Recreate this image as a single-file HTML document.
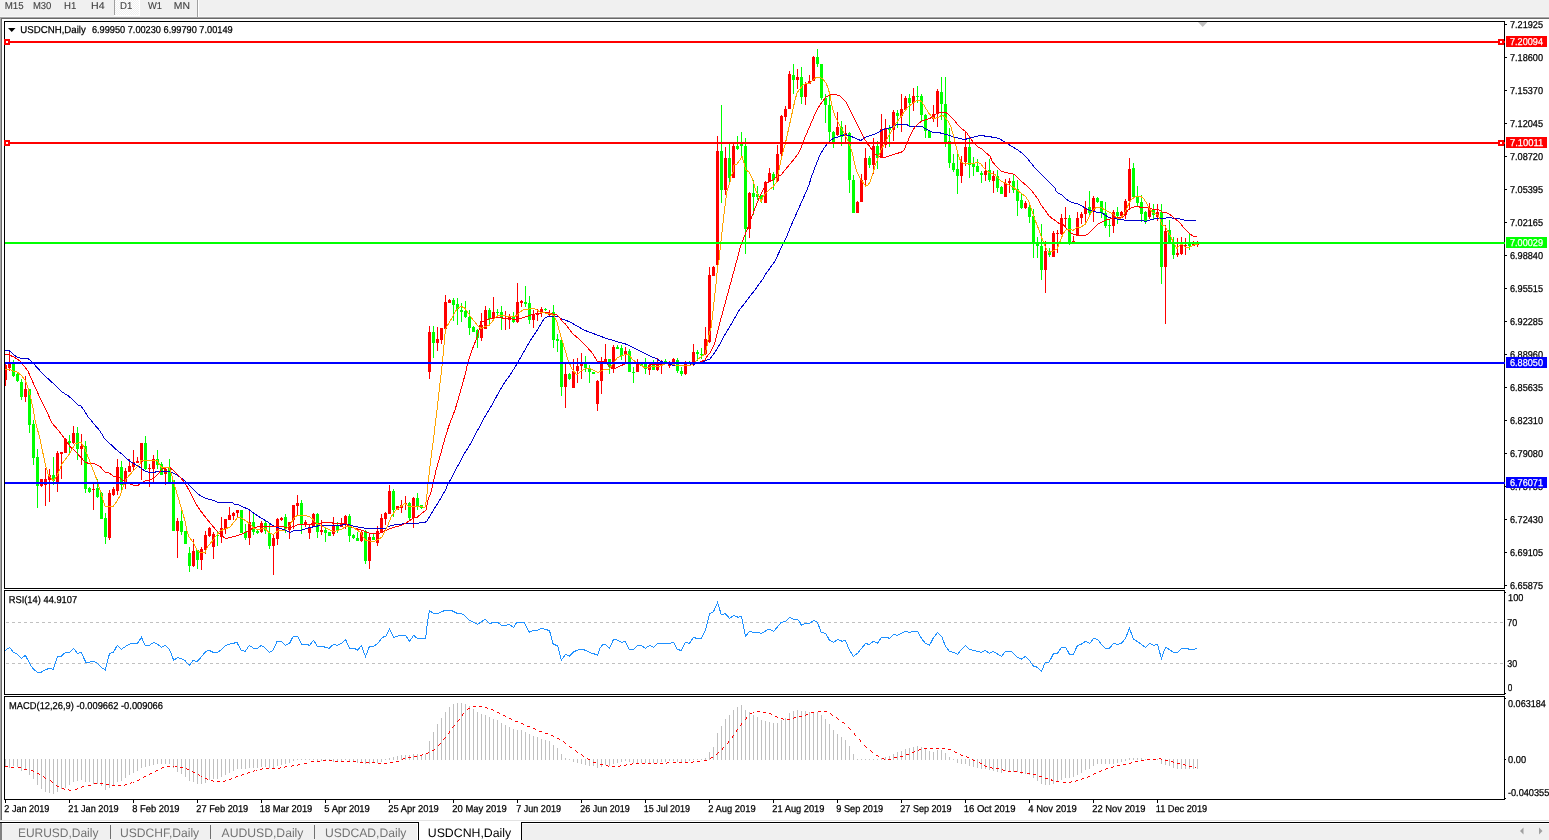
<!DOCTYPE html>
<html lang="en"><head><meta charset="utf-8"><title>USDCNH,Daily</title>
<style>
html,body{margin:0;padding:0;background:#fff;}
body{width:1549px;height:840px;overflow:hidden;position:relative;font-family:"Liberation Sans",sans-serif;}
svg{position:absolute;left:0;top:0;display:block;}
text{font-family:"Liberation Sans",sans-serif;text-rendering:geometricPrecision;}
.t{font-size:9.5px;fill:#000;}
.w{font-size:9.5px;fill:#fff;}
.tb{font-size:9.3px;fill:#3c3c3c;}
.tab{font-size:12px;fill:#757575;}
.taba{font-size:12px;fill:#000;}
</style></head><body>
<svg width="1549" height="840" viewBox="0 0 1549 840">

<g shape-rendering="crispEdges">
<rect x="0" y="0" width="1549" height="16" fill="#f0f0f0"/>
<rect x="0" y="16" width="1549" height="1" fill="#f6f6f6"/>
<rect x="0" y="17" width="1549" height="1" fill="#a6a6a6"/>
<rect x="0" y="18" width="1549" height="1" fill="#696969"/>
<defs><pattern id="chk" width="2" height="2" patternUnits="userSpaceOnUse"><rect width="2" height="2" fill="#f0f0f0"/><rect width="1" height="1" fill="#fff"/><rect x="1" y="1" width="1" height="1" fill="#fff"/></pattern></defs>
<rect x="115" y="0" width="24" height="15" fill="url(#chk)"/>
<rect x="114" y="0" width="1" height="15" fill="#a0a0a0"/>
<rect x="114" y="15" width="26" height="1" fill="#ffffff"/>
<rect x="139" y="0" width="1" height="15" fill="#ffffff"/>
<rect x="197" y="0" width="1" height="17" fill="#a0a0a0"/>
<rect x="198" y="0" width="1" height="17" fill="#ffffff"/>
<rect x="0" y="17" width="1" height="804" fill="#a6a6a6"/>
<rect x="1" y="18" width="1" height="803" fill="#696969"/>
<rect x="0" y="820" width="1549" height="1" fill="#e3e3e3"/>
<rect x="0" y="821" width="1549" height="1" fill="#ffffff"/>
<rect x="0" y="823" width="1549" height="17" fill="#f0f0f0"/>
<rect x="0" y="822" width="1549" height="1" fill="#000"/>
<rect x="0" y="823" width="2" height="17" fill="#808080"/>
<rect x="419" y="822" width="102" height="18" fill="#ffffff"/>
<rect x="418" y="822" width="1" height="18" fill="#000"/>
<rect x="521" y="822" width="1" height="18" fill="#000"/>
<rect x="417" y="823" width="1" height="17" fill="#fff"/>
<rect x="2" y="823" width="415" height="1" fill="#fff"/>
<rect x="522" y="823" width="1027" height="1" fill="#fff"/>
<rect x="110" y="825" width="1" height="14" fill="#707070"/>
<rect x="210" y="825" width="1" height="14" fill="#707070"/>
<rect x="314" y="825" width="1" height="14" fill="#707070"/>
<rect x="4" y="21" width="1501" height="1" fill="#000"/>
<rect x="4" y="588" width="1501" height="1" fill="#000"/>
<rect x="4" y="21" width="1" height="568" fill="#000"/>
<rect x="1504" y="21" width="1" height="568" fill="#000"/>
<rect x="4" y="590" width="1501" height="1" fill="#000"/>
<rect x="4" y="694" width="1501" height="1" fill="#000"/>
<rect x="4" y="590" width="1" height="105" fill="#000"/>
<rect x="1504" y="590" width="1" height="105" fill="#000"/>
<rect x="4" y="696" width="1501" height="1" fill="#000"/>
<rect x="4" y="799" width="1501" height="1" fill="#000"/>
<rect x="4" y="696" width="1" height="104" fill="#000"/>
<rect x="1504" y="696" width="1" height="104" fill="#000"/>
</g>
<polygon points="1198,22 1207.5,22 1202.7,27" fill="#c0c0c0"/>
<g shape-rendering="crispEdges">
<rect x="1505" y="24" width="2" height="1" fill="#000"/>
<rect x="1505" y="57" width="2" height="1" fill="#000"/>
<rect x="1505" y="90" width="2" height="1" fill="#000"/>
<rect x="1505" y="123" width="2" height="1" fill="#000"/>
<rect x="1505" y="156" width="2" height="1" fill="#000"/>
<rect x="1505" y="189" width="2" height="1" fill="#000"/>
<rect x="1505" y="222" width="2" height="1" fill="#000"/>
<rect x="1505" y="255" width="2" height="1" fill="#000"/>
<rect x="1505" y="288" width="2" height="1" fill="#000"/>
<rect x="1505" y="321" width="2" height="1" fill="#000"/>
<rect x="1505" y="354" width="2" height="1" fill="#000"/>
<rect x="1505" y="387" width="2" height="1" fill="#000"/>
<rect x="1505" y="420" width="2" height="1" fill="#000"/>
<rect x="1505" y="453" width="2" height="1" fill="#000"/>
<rect x="1505" y="486" width="2" height="1" fill="#000"/>
<rect x="1505" y="519" width="2" height="1" fill="#000"/>
<rect x="1505" y="552" width="2" height="1" fill="#000"/>
<rect x="1505" y="585" width="2" height="1" fill="#000"/>
<rect x="1505" y="592" width="1" height="1" fill="#000"/>
<rect x="1505" y="693" width="1" height="1" fill="#000"/>
<rect x="1505" y="698" width="1" height="1" fill="#000"/>
<rect x="1505" y="759" width="1" height="1" fill="#000"/>
<rect x="1505" y="798" width="1" height="1" fill="#000"/>
<rect x="5" y="800" width="1" height="3" fill="#000"/>
<rect x="69" y="800" width="1" height="3" fill="#000"/>
<rect x="133" y="800" width="1" height="3" fill="#000"/>
<rect x="197" y="800" width="1" height="3" fill="#000"/>
<rect x="261" y="800" width="1" height="3" fill="#000"/>
<rect x="325" y="800" width="1" height="3" fill="#000"/>
<rect x="389" y="800" width="1" height="3" fill="#000"/>
<rect x="453" y="800" width="1" height="3" fill="#000"/>
<rect x="517" y="800" width="1" height="3" fill="#000"/>
<rect x="581" y="800" width="1" height="3" fill="#000"/>
<rect x="645" y="800" width="1" height="3" fill="#000"/>
<rect x="709" y="800" width="1" height="3" fill="#000"/>
<rect x="773" y="800" width="1" height="3" fill="#000"/>
<rect x="837" y="800" width="1" height="3" fill="#000"/>
<rect x="901" y="800" width="1" height="3" fill="#000"/>
<rect x="965" y="800" width="1" height="3" fill="#000"/>
<rect x="1029" y="800" width="1" height="3" fill="#000"/>
<rect x="1093" y="800" width="1" height="3" fill="#000"/>
<rect x="1157" y="800" width="1" height="3" fill="#000"/>
<path d="M6 622.5H1504" stroke="#c0c0c0" stroke-width="1" stroke-dasharray="3 3" fill="none"/>
<path d="M6 663.5H1504" stroke="#c0c0c0" stroke-width="1" stroke-dasharray="3 3" fill="none"/>
</g>
<g shape-rendering="crispEdges" fill="#c0c0c0">
<rect x="5" y="759" width="1" height="8"/>
<rect x="9" y="759" width="1" height="9"/>
<rect x="13" y="759" width="1" height="7"/>
<rect x="17" y="759" width="1" height="8"/>
<rect x="21" y="759" width="1" height="12"/>
<rect x="25" y="759" width="1" height="11"/>
<rect x="29" y="759" width="1" height="16"/>
<rect x="33" y="759" width="1" height="20"/>
<rect x="37" y="759" width="1" height="26"/>
<rect x="41" y="759" width="1" height="30"/>
<rect x="45" y="759" width="1" height="33"/>
<rect x="49" y="759" width="1" height="34"/>
<rect x="53" y="759" width="1" height="35"/>
<rect x="57" y="759" width="1" height="33"/>
<rect x="61" y="759" width="1" height="30"/>
<rect x="65" y="759" width="1" height="29"/>
<rect x="69" y="759" width="1" height="26"/>
<rect x="73" y="759" width="1" height="23"/>
<rect x="77" y="759" width="1" height="22"/>
<rect x="81" y="759" width="1" height="21"/>
<rect x="85" y="759" width="1" height="23"/>
<rect x="89" y="759" width="1" height="23"/>
<rect x="93" y="759" width="1" height="25"/>
<rect x="97" y="759" width="1" height="25"/>
<rect x="101" y="759" width="1" height="27"/>
<rect x="105" y="759" width="1" height="31"/>
<rect x="109" y="759" width="1" height="29"/>
<rect x="113" y="759" width="1" height="26"/>
<rect x="117" y="759" width="1" height="23"/>
<rect x="121" y="759" width="1" height="22"/>
<rect x="125" y="759" width="1" height="19"/>
<rect x="129" y="759" width="1" height="16"/>
<rect x="133" y="759" width="1" height="14"/>
<rect x="137" y="759" width="1" height="12"/>
<rect x="141" y="759" width="1" height="9"/>
<rect x="145" y="759" width="1" height="8"/>
<rect x="149" y="759" width="1" height="7"/>
<rect x="153" y="759" width="1" height="6"/>
<rect x="157" y="759" width="1" height="5"/>
<rect x="161" y="759" width="1" height="5"/>
<rect x="165" y="759" width="1" height="5"/>
<rect x="169" y="759" width="1" height="5"/>
<rect x="173" y="759" width="1" height="9"/>
<rect x="177" y="759" width="1" height="13"/>
<rect x="181" y="759" width="1" height="15"/>
<rect x="185" y="759" width="1" height="18"/>
<rect x="189" y="759" width="1" height="22"/>
<rect x="193" y="759" width="1" height="23"/>
<rect x="197" y="759" width="1" height="25"/>
<rect x="201" y="759" width="1" height="25"/>
<rect x="205" y="759" width="1" height="24"/>
<rect x="209" y="759" width="1" height="21"/>
<rect x="213" y="759" width="1" height="20"/>
<rect x="217" y="759" width="1" height="20"/>
<rect x="221" y="759" width="1" height="18"/>
<rect x="225" y="759" width="1" height="16"/>
<rect x="229" y="759" width="1" height="14"/>
<rect x="233" y="759" width="1" height="12"/>
<rect x="237" y="759" width="1" height="10"/>
<rect x="241" y="759" width="1" height="10"/>
<rect x="245" y="759" width="1" height="10"/>
<rect x="249" y="759" width="1" height="9"/>
<rect x="253" y="759" width="1" height="9"/>
<rect x="257" y="759" width="1" height="9"/>
<rect x="261" y="759" width="1" height="8"/>
<rect x="265" y="759" width="1" height="8"/>
<rect x="269" y="759" width="1" height="9"/>
<rect x="273" y="759" width="1" height="9"/>
<rect x="277" y="759" width="1" height="7"/>
<rect x="281" y="759" width="1" height="6"/>
<rect x="285" y="759" width="1" height="5"/>
<rect x="289" y="759" width="1" height="4"/>
<rect x="293" y="759" width="1" height="2"/>
<rect x="297" y="759" width="1" height="1"/>
<rect x="301" y="759" width="1" height="1"/>
<rect x="305" y="759" width="1" height="1"/>
<rect x="309" y="759" width="1" height="1"/>
<rect x="313" y="759" width="1" height="1"/>
<rect x="317" y="759" width="1" height="2"/>
<rect x="321" y="759" width="1" height="2"/>
<rect x="325" y="759" width="1" height="2"/>
<rect x="329" y="759" width="1" height="2"/>
<rect x="333" y="759" width="1" height="3"/>
<rect x="337" y="759" width="1" height="2"/>
<rect x="341" y="759" width="1" height="2"/>
<rect x="345" y="759" width="1" height="1"/>
<rect x="349" y="759" width="1" height="2"/>
<rect x="353" y="759" width="1" height="3"/>
<rect x="357" y="759" width="1" height="4"/>
<rect x="361" y="759" width="1" height="4"/>
<rect x="365" y="759" width="1" height="5"/>
<rect x="369" y="759" width="1" height="5"/>
<rect x="373" y="759" width="1" height="4"/>
<rect x="377" y="759" width="1" height="4"/>
<rect x="381" y="759" width="1" height="3"/>
<rect x="385" y="759" width="1" height="1"/>
<rect x="389" y="758" width="1" height="2"/>
<rect x="393" y="757" width="1" height="3"/>
<rect x="397" y="756" width="1" height="4"/>
<rect x="401" y="755" width="1" height="5"/>
<rect x="405" y="755" width="1" height="5"/>
<rect x="409" y="755" width="1" height="5"/>
<rect x="413" y="754" width="1" height="6"/>
<rect x="417" y="754" width="1" height="6"/>
<rect x="421" y="755" width="1" height="5"/>
<rect x="425" y="754" width="1" height="6"/>
<rect x="429" y="741" width="1" height="19"/>
<rect x="433" y="732" width="1" height="28"/>
<rect x="437" y="724" width="1" height="36"/>
<rect x="441" y="718" width="1" height="42"/>
<rect x="445" y="712" width="1" height="48"/>
<rect x="449" y="707" width="1" height="53"/>
<rect x="453" y="704" width="1" height="56"/>
<rect x="457" y="703" width="1" height="57"/>
<rect x="461" y="703" width="1" height="57"/>
<rect x="465" y="704" width="1" height="56"/>
<rect x="469" y="706" width="1" height="54"/>
<rect x="473" y="709" width="1" height="51"/>
<rect x="477" y="712" width="1" height="48"/>
<rect x="481" y="714" width="1" height="46"/>
<rect x="485" y="715" width="1" height="45"/>
<rect x="489" y="717" width="1" height="43"/>
<rect x="493" y="719" width="1" height="41"/>
<rect x="497" y="720" width="1" height="40"/>
<rect x="501" y="723" width="1" height="37"/>
<rect x="505" y="725" width="1" height="35"/>
<rect x="509" y="727" width="1" height="33"/>
<rect x="513" y="729" width="1" height="31"/>
<rect x="517" y="730" width="1" height="30"/>
<rect x="521" y="730" width="1" height="30"/>
<rect x="525" y="732" width="1" height="28"/>
<rect x="529" y="734" width="1" height="26"/>
<rect x="533" y="736" width="1" height="24"/>
<rect x="537" y="737" width="1" height="23"/>
<rect x="541" y="739" width="1" height="21"/>
<rect x="545" y="740" width="1" height="20"/>
<rect x="549" y="741" width="1" height="19"/>
<rect x="553" y="745" width="1" height="15"/>
<rect x="557" y="748" width="1" height="12"/>
<rect x="561" y="754" width="1" height="6"/>
<rect x="565" y="758" width="1" height="2"/>
<rect x="569" y="759" width="1" height="1"/>
<rect x="573" y="759" width="1" height="3"/>
<rect x="577" y="759" width="1" height="4"/>
<rect x="581" y="759" width="1" height="5"/>
<rect x="585" y="759" width="1" height="6"/>
<rect x="589" y="759" width="1" height="7"/>
<rect x="593" y="759" width="1" height="7"/>
<rect x="597" y="759" width="1" height="9"/>
<rect x="601" y="759" width="1" height="8"/>
<rect x="605" y="759" width="1" height="6"/>
<rect x="609" y="759" width="1" height="7"/>
<rect x="613" y="759" width="1" height="5"/>
<rect x="617" y="759" width="1" height="4"/>
<rect x="621" y="759" width="1" height="3"/>
<rect x="625" y="759" width="1" height="2"/>
<rect x="629" y="759" width="1" height="3"/>
<rect x="633" y="759" width="1" height="4"/>
<rect x="637" y="759" width="1" height="4"/>
<rect x="641" y="759" width="1" height="4"/>
<rect x="645" y="759" width="1" height="4"/>
<rect x="649" y="759" width="1" height="4"/>
<rect x="653" y="759" width="1" height="4"/>
<rect x="657" y="759" width="1" height="4"/>
<rect x="661" y="759" width="1" height="3"/>
<rect x="665" y="759" width="1" height="3"/>
<rect x="669" y="759" width="1" height="2"/>
<rect x="673" y="759" width="1" height="2"/>
<rect x="677" y="759" width="1" height="3"/>
<rect x="681" y="759" width="1" height="3"/>
<rect x="685" y="759" width="1" height="3"/>
<rect x="689" y="759" width="1" height="2"/>
<rect x="693" y="759" width="1" height="1"/>
<rect x="697" y="759" width="1" height="1"/>
<rect x="701" y="759" width="1" height="1"/>
<rect x="705" y="758" width="1" height="2"/>
<rect x="709" y="752" width="1" height="8"/>
<rect x="713" y="747" width="1" height="13"/>
<rect x="717" y="733" width="1" height="27"/>
<rect x="721" y="726" width="1" height="34"/>
<rect x="725" y="719" width="1" height="41"/>
<rect x="729" y="715" width="1" height="45"/>
<rect x="733" y="710" width="1" height="50"/>
<rect x="737" y="707" width="1" height="53"/>
<rect x="741" y="705" width="1" height="55"/>
<rect x="745" y="710" width="1" height="50"/>
<rect x="749" y="712" width="1" height="48"/>
<rect x="753" y="715" width="1" height="45"/>
<rect x="757" y="717" width="1" height="43"/>
<rect x="761" y="720" width="1" height="40"/>
<rect x="765" y="721" width="1" height="39"/>
<rect x="769" y="722" width="1" height="38"/>
<rect x="773" y="723" width="1" height="37"/>
<rect x="777" y="723" width="1" height="37"/>
<rect x="781" y="720" width="1" height="40"/>
<rect x="785" y="718" width="1" height="42"/>
<rect x="789" y="713" width="1" height="47"/>
<rect x="793" y="711" width="1" height="49"/>
<rect x="797" y="710" width="1" height="50"/>
<rect x="801" y="711" width="1" height="49"/>
<rect x="805" y="711" width="1" height="49"/>
<rect x="809" y="712" width="1" height="48"/>
<rect x="813" y="712" width="1" height="48"/>
<rect x="817" y="712" width="1" height="48"/>
<rect x="821" y="715" width="1" height="45"/>
<rect x="825" y="719" width="1" height="41"/>
<rect x="829" y="724" width="1" height="36"/>
<rect x="833" y="730" width="1" height="30"/>
<rect x="837" y="734" width="1" height="26"/>
<rect x="841" y="737" width="1" height="23"/>
<rect x="845" y="740" width="1" height="20"/>
<rect x="849" y="746" width="1" height="14"/>
<rect x="853" y="754" width="1" height="6"/>
<rect x="857" y="759" width="1" height="1"/>
<rect x="861" y="759" width="1" height="1"/>
<rect x="865" y="759" width="1" height="1"/>
<rect x="869" y="759" width="1" height="1"/>
<rect x="873" y="759" width="1" height="1"/>
<rect x="877" y="759" width="1" height="1"/>
<rect x="881" y="758" width="1" height="2"/>
<rect x="885" y="757" width="1" height="3"/>
<rect x="889" y="756" width="1" height="4"/>
<rect x="893" y="754" width="1" height="6"/>
<rect x="897" y="752" width="1" height="8"/>
<rect x="901" y="751" width="1" height="9"/>
<rect x="905" y="749" width="1" height="11"/>
<rect x="909" y="748" width="1" height="12"/>
<rect x="913" y="747" width="1" height="13"/>
<rect x="917" y="746" width="1" height="14"/>
<rect x="921" y="747" width="1" height="13"/>
<rect x="925" y="749" width="1" height="11"/>
<rect x="929" y="751" width="1" height="9"/>
<rect x="933" y="752" width="1" height="8"/>
<rect x="937" y="750" width="1" height="10"/>
<rect x="941" y="750" width="1" height="10"/>
<rect x="945" y="753" width="1" height="7"/>
<rect x="949" y="757" width="1" height="3"/>
<rect x="953" y="759" width="1" height="1"/>
<rect x="957" y="759" width="1" height="4"/>
<rect x="961" y="759" width="1" height="5"/>
<rect x="965" y="759" width="1" height="5"/>
<rect x="969" y="759" width="1" height="7"/>
<rect x="973" y="759" width="1" height="8"/>
<rect x="977" y="759" width="1" height="9"/>
<rect x="981" y="759" width="1" height="10"/>
<rect x="985" y="759" width="1" height="10"/>
<rect x="989" y="759" width="1" height="11"/>
<rect x="993" y="759" width="1" height="12"/>
<rect x="997" y="759" width="1" height="13"/>
<rect x="1001" y="759" width="1" height="14"/>
<rect x="1005" y="759" width="1" height="12"/>
<rect x="1009" y="759" width="1" height="12"/>
<rect x="1013" y="759" width="1" height="13"/>
<rect x="1017" y="759" width="1" height="13"/>
<rect x="1021" y="759" width="1" height="15"/>
<rect x="1025" y="759" width="1" height="15"/>
<rect x="1029" y="759" width="1" height="16"/>
<rect x="1033" y="759" width="1" height="19"/>
<rect x="1037" y="759" width="1" height="22"/>
<rect x="1041" y="759" width="1" height="25"/>
<rect x="1045" y="759" width="1" height="26"/>
<rect x="1049" y="759" width="1" height="26"/>
<rect x="1053" y="759" width="1" height="25"/>
<rect x="1057" y="759" width="1" height="23"/>
<rect x="1061" y="759" width="1" height="21"/>
<rect x="1065" y="759" width="1" height="19"/>
<rect x="1069" y="759" width="1" height="19"/>
<rect x="1073" y="759" width="1" height="18"/>
<rect x="1077" y="759" width="1" height="16"/>
<rect x="1081" y="759" width="1" height="14"/>
<rect x="1085" y="759" width="1" height="11"/>
<rect x="1089" y="759" width="1" height="10"/>
<rect x="1093" y="759" width="1" height="7"/>
<rect x="1097" y="759" width="1" height="5"/>
<rect x="1101" y="759" width="1" height="5"/>
<rect x="1105" y="759" width="1" height="5"/>
<rect x="1109" y="759" width="1" height="5"/>
<rect x="1113" y="759" width="1" height="5"/>
<rect x="1117" y="759" width="1" height="4"/>
<rect x="1121" y="759" width="1" height="3"/>
<rect x="1125" y="759" width="1" height="2"/>
<rect x="1129" y="758" width="1" height="2"/>
<rect x="1133" y="758" width="1" height="2"/>
<rect x="1137" y="758" width="1" height="2"/>
<rect x="1141" y="758" width="1" height="2"/>
<rect x="1145" y="759" width="1" height="1"/>
<rect x="1149" y="759" width="1" height="1"/>
<rect x="1153" y="759" width="1" height="1"/>
<rect x="1157" y="759" width="1" height="1"/>
<rect x="1161" y="759" width="1" height="5"/>
<rect x="1165" y="759" width="1" height="6"/>
<rect x="1169" y="759" width="1" height="7"/>
<rect x="1173" y="759" width="1" height="9"/>
<rect x="1177" y="759" width="1" height="10"/>
<rect x="1181" y="759" width="1" height="10"/>
<rect x="1185" y="759" width="1" height="10"/>
<rect x="1189" y="759" width="1" height="10"/>
<rect x="1193" y="759" width="1" height="10"/>
<rect x="1197" y="759" width="1" height="10"/>
</g>
<path d="M473 706h3v1h-3zM479 706h3v1h-3zM485 707h2v1h-2zM468 708h2v1h-2zM487 708h1v1h-1zM467 709h1v1h-1zM491 709h2v1h-2zM493 710h1v1h-1zM757 711h3v1h-3zM818 711h3v1h-3zM824 711h3v1h-3zM497 712h2v1h-2zM753 712h1v1h-1zM763 712h3v1h-3zM811 712h3v1h-3zM463 713h1v1h-1zM499 713h1v1h-1zM750 713h2v1h-2zM769 713h2v1h-2zM830 713h1v1h-1zM462 714h1v1h-1zM771 714h1v1h-1zM806 714h2v1h-2zM831 714h1v1h-1zM462 715h1v1h-1zM503 715h2v1h-2zM805 715h1v1h-1zM832 715h1v1h-1zM505 716h1v1h-1zM775 716h2v1h-2zM799 716h3v1h-3zM746 717h1v1h-1zM777 717h1v1h-1zM794 717h2v1h-2zM836 717h1v1h-1zM509 718h2v1h-2zM746 718h1v1h-1zM781 718h2v1h-2zM793 718h1v1h-1zM837 718h1v1h-1zM459 719h1v1h-1zM511 719h1v1h-1zM745 719h1v1h-1zM783 719h1v1h-1zM787 719h3v1h-3zM838 719h1v1h-1zM458 720h1v1h-1zM457 721h1v1h-1zM515 721h3v1h-3zM842 722h2v1h-2zM521 723h2v1h-2zM741 723h1v1h-1zM844 723h1v1h-1zM523 724h1v1h-1zM741 724h1v1h-1zM454 725h1v1h-1zM740 725h1v1h-1zM453 726h1v1h-1zM527 726h3v1h-3zM452 727h1v1h-1zM848 727h1v1h-1zM533 728h2v1h-2zM849 728h1v1h-1zM535 729h1v1h-1zM737 729h1v1h-1zM850 729h1v1h-1zM736 730h1v1h-1zM449 731h1v1h-1zM539 731h3v1h-3zM736 731h1v1h-1zM449 732h1v1h-1zM448 733h1v1h-1zM545 733h3v1h-3zM854 733h1v1h-1zM854 734h1v1h-1zM551 735h2v1h-2zM733 735h1v1h-1zM855 735h1v1h-1zM553 736h1v1h-1zM732 736h1v1h-1zM445 737h1v1h-1zM732 737h1v1h-1zM444 738h1v1h-1zM557 738h2v1h-2zM443 739h1v1h-1zM559 739h1v1h-1zM859 739h1v1h-1zM860 740h1v1h-1zM563 741h1v1h-1zM728 741h1v1h-1zM860 741h1v1h-1zM564 742h1v1h-1zM728 742h1v1h-1zM440 743h1v1h-1zM565 743h1v1h-1zM727 743h1v1h-1zM439 744h1v1h-1zM438 745h1v1h-1zM864 745h1v1h-1zM569 746h1v1h-1zM865 746h1v1h-1zM570 747h2v1h-2zM723 747h1v1h-1zM866 747h1v1h-1zM722 748h1v1h-1zM924 748h3v1h-3zM930 748h3v1h-3zM936 748h3v1h-3zM942 748h3v1h-3zM434 749h1v1h-1zM722 749h1v1h-1zM919 749h2v1h-2zM948 749h3v1h-3zM432 750h2v1h-2zM575 750h1v1h-1zM870 750h1v1h-1zM918 750h1v1h-1zM576 751h1v1h-1zM871 751h1v1h-1zM914 751h1v1h-1zM954 751h1v1h-1zM428 752h1v1h-1zM577 752h1v1h-1zM718 752h1v1h-1zM872 752h1v1h-1zM912 752h2v1h-2zM955 752h2v1h-2zM426 753h2v1h-2zM717 753h1v1h-1zM422 754h1v1h-1zM581 754h1v1h-1zM716 754h1v1h-1zM906 754h3v1h-3zM960 754h1v1h-1zM420 755h2v1h-2zM582 755h1v1h-1zM876 755h2v1h-2zM961 755h2v1h-2zM414 756h3v1h-3zM583 756h1v1h-1zM878 756h1v1h-1zM900 756h3v1h-3zM966 756h1v1h-1zM408 757h3v1h-3zM711 757h2v1h-2zM894 757h3v1h-3zM967 757h2v1h-2zM403 758h2v1h-2zM587 758h1v1h-1zM710 758h1v1h-1zM882 758h2v1h-2zM1159 758h2v1h-2zM402 759h1v1h-1zM588 759h2v1h-2zM884 759h1v1h-1zM888 759h3v1h-3zM972 759h1v1h-1zM1147 759h3v1h-3zM1153 759h3v1h-3zM1161 759h1v1h-1zM323 760h3v1h-3zM329 760h3v1h-3zM704 760h3v1h-3zM973 760h2v1h-2zM1141 760h3v1h-3zM1165 760h3v1h-3zM311 761h3v1h-3zM317 761h3v1h-3zM335 761h3v1h-3zM341 761h3v1h-3zM347 761h3v1h-3zM353 761h3v1h-3zM396 761h3v1h-3zM693 761h1v1h-1zM697 761h3v1h-3zM1135 761h3v1h-3zM1171 761h2v1h-2zM360 762h3v1h-3zM366 762h3v1h-3zM372 762h3v1h-3zM390 762h3v1h-3zM593 762h3v1h-3zM667 762h2v1h-2zM673 762h3v1h-3zM679 762h3v1h-3zM685 762h3v1h-3zM691 762h2v1h-2zM979 762h1v1h-1zM1131 762h1v1h-1zM1173 762h1v1h-1zM304 763h3v1h-3zM378 763h3v1h-3zM384 763h3v1h-3zM632 763h1v1h-1zM636 763h3v1h-3zM642 763h3v1h-3zM648 763h3v1h-3zM654 763h3v1h-3zM660 763h3v1h-3zM666 763h1v1h-1zM980 763h2v1h-2zM1129 763h2v1h-2zM1177 763h3v1h-3zM298 764h2v1h-2zM600 764h3v1h-3zM626 764h1v1h-1zM630 764h2v1h-2zM1123 764h3v1h-3zM1183 764h2v1h-2zM292 765h2v1h-2zM297 765h1v1h-1zM606 765h2v1h-2zM620 765h1v1h-1zM624 765h2v1h-2zM984 765h1v1h-1zM1117 765h3v1h-3zM1185 765h1v1h-1zM5 766h3v1h-3zM167 766h3v1h-3zM173 766h1v1h-1zM175 766h2v1h-2zM285 766h2v1h-2zM291 766h1v1h-1zM608 766h1v1h-1zM612 766h3v1h-3zM618 766h2v1h-2zM985 766h2v1h-2zM1113 766h1v1h-1zM1189 766h3v1h-3zM11 767h3v1h-3zM18 767h3v1h-3zM162 767h2v1h-2zM180 767h3v1h-3zM280 767h1v1h-1zM284 767h1v1h-1zM990 767h2v1h-2zM1111 767h2v1h-2zM1195 767h1v1h-1zM161 768h1v1h-1zM186 768h1v1h-1zM262 768h1v1h-1zM266 768h3v1h-3zM272 768h3v1h-3zM278 768h2v1h-2zM992 768h1v1h-1zM996 768h3v1h-3zM1106 768h2v1h-2zM24 769h3v1h-3zM187 769h2v1h-2zM260 769h2v1h-2zM1002 769h1v1h-1zM1105 769h1v1h-1zM31 770h2v1h-2zM156 770h2v1h-2zM254 770h1v1h-1zM256 770h1v1h-1zM1003 770h2v1h-2zM1101 770h1v1h-1zM33 771h1v1h-1zM155 771h1v1h-1zM192 771h1v1h-1zM253 771h1v1h-1zM1008 771h3v1h-3zM1014 771h3v1h-3zM1099 771h2v1h-2zM193 772h2v1h-2zM248 772h2v1h-2zM1020 772h3v1h-3zM37 773h2v1h-2zM150 773h2v1h-2zM247 773h1v1h-1zM1027 773h3v1h-3zM1094 773h2v1h-2zM39 774h1v1h-1zM149 774h1v1h-1zM198 774h1v1h-1zM242 774h2v1h-2zM1033 774h3v1h-3zM1093 774h1v1h-1zM199 775h1v1h-1zM241 775h1v1h-1zM43 776h1v1h-1zM144 776h2v1h-2zM201 776h1v1h-1zM236 776h2v1h-2zM1039 776h3v1h-3zM1088 776h2v1h-2zM44 777h1v1h-1zM143 777h1v1h-1zM235 777h1v1h-1zM1087 777h1v1h-1zM45 778h1v1h-1zM205 778h2v1h-2zM231 778h1v1h-1zM1045 778h3v1h-3zM1082 778h2v1h-2zM139 779h1v1h-1zM207 779h1v1h-1zM229 779h2v1h-2zM1051 779h1v1h-1zM1081 779h1v1h-1zM50 780h1v1h-1zM137 780h2v1h-2zM211 780h2v1h-2zM225 780h1v1h-1zM1051 780h2v1h-2zM1076 780h2v1h-2zM51 781h1v1h-1zM213 781h1v1h-1zM217 781h3v1h-3zM223 781h2v1h-2zM1056 781h3v1h-3zM1071 781h1v1h-1zM1075 781h1v1h-1zM52 782h1v1h-1zM131 782h1v1h-1zM133 782h1v1h-1zM1063 782h3v1h-3zM1069 782h2v1h-2zM94 783h3v1h-3zM100 783h3v1h-3zM130 783h1v1h-1zM106 784h3v1h-3zM125 784h2v1h-2zM56 785h1v1h-1zM88 785h3v1h-3zM112 785h3v1h-3zM118 785h3v1h-3zM124 785h1v1h-1zM57 786h2v1h-2zM82 786h2v1h-2zM81 787h1v1h-1zM62 788h2v1h-2zM77 788h1v1h-1zM64 789h1v1h-1zM68 789h1v1h-1zM75 789h2v1h-2zM69 790h2v1h-2z" fill="#ff0000" shape-rendering="crispEdges"/>
<polyline points="5.2,650.5 9.7,647.3 12.9,651.8 16.1,653.4 21.3,658.3 25.4,655.4 30.3,664.7 33.8,669.6 37.4,672.2 41.3,672.2 44.5,670.3 49,668.3 53.2,669.2 57.5,656.6 61.3,656.3 65.6,652.2 69.7,652.2 73.6,648.3 77.5,653.4 81.1,652.2 85.9,662.4 89.7,662.1 93.6,661.2 96.8,662.8 102,668 105.2,669.9 109.5,653.7 113.6,652.1 117.2,645.4 121.4,649.2 127.2,645.4 131.7,643.4 137.5,643.4 141.4,637.3 145.3,645.4 149.1,645.4 153.6,642.4 156.9,643.8 161.4,647.3 165.3,645.1 169.4,649.2 173.7,660.2 177.9,657.4 184.6,660.2 189.2,665.4 193,660.5 196.9,661.5 200,658.5 205.8,651.4 209,650.3 213.6,652.5 217.4,652.5 221.3,649.9 225.8,645.4 229,644.2 232.9,643.4 237,642.4 241,650.3 245.2,651.4 249.3,645.4 253.6,648.3 257.5,648.3 261.3,645.4 264.6,647.3 269.5,652.5 273.3,649.9 277.1,641.2 281.3,641.2 285.5,645.4 289.7,643 293.2,636.3 297.7,636.3 301.4,644.2 306.5,644.2 309.5,645.4 313.6,640.3 317.5,646.4 323.3,646.4 325.2,647.3 329.1,648.3 333.6,644.2 337.3,645.4 341.4,643.4 345.5,639.5 349.5,648.3 354.3,648.3 357.5,650.3 361.4,645.6 365.5,656.6 369.4,646.4 373.3,646.4 377.5,643.8 382.1,637.6 385.9,636.1 389.4,629.2 393.7,637.3 397.5,636.3 400,635.4 405.8,635.4 409.4,641.5 413.6,635.4 417.4,638.5 425.6,638.5 427.4,622.8 429.4,610.5 433.6,613.5 438.1,613.5 444.5,610.5 451.6,610.5 457.5,613.5 461.3,613.5 463.9,615 469.5,620.2 477.5,624.4 485.2,619.3 489.7,623.7 493,622.4 497.5,622.4 502,625.5 505.9,625.5 509.1,624.4 513.6,627.5 516.8,622.4 524,622.4 529.5,632.4 533,630.5 537.3,630.2 541.4,628.3 545.5,629.5 549.5,630.5 553,643.8 557.8,646 561.4,660.2 565.5,654.4 569.4,656.3 573.7,651.8 578.2,649.9 582.1,649.2 585.9,650.5 589.8,652.5 597.5,655 600,648.3 602.6,644.7 605.2,644.2 609.4,648.3 613.6,639.3 617.4,640.2 622,642.4 625.2,641.5 629.4,649.5 633.3,649.5 637.4,645.4 641.3,645.4 645.4,648.3 649.7,645.4 653.6,647.3 657.5,643.4 669.7,643.4 673.6,642.4 677.1,649.2 681.1,650.5 685.2,642.4 689.3,643.4 693.6,637.3 696.8,638.5 701.4,638.5 705.2,630.5 707.4,622.8 709.5,613.5 713.4,611.8 717.5,602.5 721.4,615 725.2,613.5 729.5,618.4 733.6,615.4 738.2,617.3 741.4,616.4 745.5,636.3 749.5,631.4 753,632.4 758.8,632.4 761.4,633.5 767.8,629.5 770.4,629.5 773.7,631.4 780.8,622.8 785.5,621.2 789.8,617.3 793.7,619.3 797.5,619.3 800,622.4 801.5,625.5 805.2,623.4 809.7,623.4 813.8,620.3 817.4,622.4 821.3,632.4 825.8,633.5 829.4,640.2 833.6,642.4 837.7,639.3 842,641.2 845.2,640.2 849.1,649.2 853.3,656.3 857.5,653.4 865.6,643.4 869.1,644.5 873.6,641.2 877.5,643.4 881.3,637.3 887.2,637.3 889.3,638.5 893.6,634.4 897.5,635.3 905.2,631.4 909.5,632.4 913.6,631.4 917.5,631.4 921.4,638.3 925.2,643.2 929.5,645.4 933,638.5 937.5,632.4 941.6,636.3 945.5,646.4 949.5,651.4 953.6,652.5 957.5,654.4 961.4,649.5 965.5,645.4 969.4,649.2 973.7,650.5 977.5,651.4 981.4,652.5 985.3,650.5 989.4,653.4 993,651.4 996.3,653.4 1000,655.4 1001.5,656.6 1005.2,651.4 1011,651.4 1013.6,653.4 1017.4,657.4 1021.3,659.2 1025.4,656.3 1029.7,660.8 1033.3,666 1037.4,667.3 1041.6,671.4 1045.2,662.4 1049.1,662.1 1053.6,653.4 1057.5,653.4 1061.6,647.3 1065.8,647.3 1069.5,654.4 1073.3,654.4 1077.5,645.4 1081.3,644.2 1085.5,641.2 1089.7,643.4 1093.6,638.3 1097.7,639.5 1101.4,644.2 1105.6,648.3 1109.5,648.3 1113.4,643.4 1117.5,644.5 1121.4,643.4 1125.2,638.9 1129.5,628.3 1133.4,639.3 1137.5,641.5 1145.5,647.6 1149.5,643.4 1153.6,645.4 1157.5,644.5 1161.4,658.5 1165.5,647.3 1169.4,649.5 1173.7,652.5 1177.5,652.5 1181.4,648.3 1187.2,648.3 1189.4,649.5 1193.7,649.5 1196.9,648.3" fill="none" stroke="#1e90ff" stroke-width="1" shape-rendering="crispEdges"/>
<g shape-rendering="crispEdges">
</g>
<g shape-rendering="crispEdges">
<g fill="#00ff00">
<rect x="13" y="360" width="1" height="17"/><rect x="12" y="364" width="3" height="12"/>
<rect x="17" y="373" width="1" height="9"/><rect x="16" y="374" width="3" height="7"/>
<rect x="21" y="379" width="1" height="21"/><rect x="20" y="382" width="3" height="15"/>
<rect x="29" y="389" width="1" height="44"/><rect x="28" y="389" width="3" height="36"/>
<rect x="33" y="420" width="1" height="45"/><rect x="32" y="424" width="3" height="34"/>
<rect x="37" y="449" width="1" height="59"/><rect x="36" y="457" width="3" height="29"/>
<rect x="53" y="457" width="1" height="28"/><rect x="52" y="475" width="3" height="6"/>
<rect x="69" y="435" width="1" height="18"/><rect x="68" y="441" width="3" height="2"/>
<rect x="77" y="427" width="1" height="33"/><rect x="76" y="433" width="3" height="16"/>
<rect x="85" y="441" width="1" height="52"/><rect x="84" y="446" width="3" height="43"/>
<rect x="89" y="487" width="1" height="6"/><rect x="88" y="488" width="3" height="4"/>
<rect x="97" y="479" width="1" height="19"/><rect x="96" y="488" width="3" height="9"/>
<rect x="101" y="492" width="1" height="27"/><rect x="100" y="493" width="3" height="26"/>
<rect x="105" y="513" width="1" height="31"/><rect x="104" y="518" width="3" height="19"/>
<rect x="121" y="461" width="1" height="31"/><rect x="120" y="467" width="3" height="18"/>
<rect x="145" y="436" width="1" height="34"/><rect x="144" y="443" width="3" height="26"/>
<rect x="157" y="450" width="1" height="19"/><rect x="156" y="459" width="3" height="6"/>
<rect x="161" y="462" width="1" height="13"/><rect x="160" y="464" width="3" height="11"/>
<rect x="169" y="459" width="1" height="23"/><rect x="168" y="468" width="3" height="14"/>
<rect x="173" y="480" width="1" height="51"/><rect x="172" y="480" width="3" height="51"/>
<rect x="181" y="510" width="1" height="25"/><rect x="180" y="521" width="3" height="11"/>
<rect x="185" y="531" width="1" height="13"/><rect x="184" y="531" width="3" height="13"/>
<rect x="189" y="547" width="1" height="25"/><rect x="188" y="553" width="3" height="13"/>
<rect x="197" y="550" width="1" height="19"/><rect x="196" y="550" width="3" height="10"/>
<rect x="217" y="532" width="1" height="14"/><rect x="216" y="535" width="3" height="1"/>
<rect x="241" y="510" width="1" height="23"/><rect x="240" y="510" width="3" height="23"/>
<rect x="245" y="524" width="1" height="16"/><rect x="244" y="532" width="3" height="6"/>
<rect x="253" y="512" width="1" height="23"/><rect x="252" y="522" width="3" height="10"/>
<rect x="257" y="530" width="1" height="4"/><rect x="256" y="531" width="3" height="2"/>
<rect x="265" y="521" width="1" height="13"/><rect x="264" y="523" width="3" height="8"/>
<rect x="269" y="523" width="1" height="26"/><rect x="268" y="533" width="3" height="13"/>
<rect x="285" y="514" width="1" height="19"/><rect x="284" y="517" width="3" height="12"/>
<rect x="301" y="500" width="1" height="34"/><rect x="300" y="503" width="3" height="21"/>
<rect x="317" y="513" width="1" height="25"/><rect x="316" y="514" width="3" height="18"/>
<rect x="325" y="527" width="1" height="15"/><rect x="324" y="530" width="3" height="3"/>
<rect x="329" y="532" width="1" height="4"/><rect x="328" y="532" width="3" height="4"/>
<rect x="337" y="522" width="1" height="11"/><rect x="336" y="526" width="3" height="4"/>
<rect x="349" y="514" width="1" height="28"/><rect x="348" y="516" width="3" height="20"/>
<rect x="353" y="534" width="1" height="5"/><rect x="352" y="535" width="3" height="3"/>
<rect x="357" y="532" width="1" height="9"/><rect x="356" y="538" width="3" height="3"/>
<rect x="365" y="530" width="1" height="34"/><rect x="364" y="531" width="3" height="30"/>
<rect x="373" y="534" width="1" height="6"/><rect x="372" y="537" width="3" height="3"/>
<rect x="393" y="489" width="1" height="28"/><rect x="392" y="491" width="3" height="19"/>
<rect x="409" y="502" width="1" height="19"/><rect x="408" y="503" width="3" height="15"/>
<rect x="417" y="493" width="1" height="17"/><rect x="416" y="498" width="3" height="9"/>
<rect x="421" y="505" width="1" height="4"/><rect x="420" y="505" width="3" height="3"/>
<rect x="433" y="326" width="1" height="32"/><rect x="432" y="332" width="3" height="11"/>
<rect x="453" y="298" width="1" height="23"/><rect x="452" y="300" width="3" height="5"/>
<rect x="457" y="298" width="1" height="27"/><rect x="456" y="304" width="3" height="5"/>
<rect x="461" y="303" width="1" height="19"/><rect x="460" y="310" width="3" height="2"/>
<rect x="465" y="301" width="1" height="17"/><rect x="464" y="311" width="3" height="6"/>
<rect x="469" y="310" width="1" height="25"/><rect x="468" y="317" width="3" height="11"/>
<rect x="473" y="326" width="1" height="6"/><rect x="472" y="327" width="3" height="5"/>
<rect x="477" y="329" width="1" height="19"/><rect x="476" y="330" width="3" height="8"/>
<rect x="489" y="308" width="1" height="16"/><rect x="488" y="310" width="3" height="9"/>
<rect x="497" y="309" width="1" height="6"/><rect x="496" y="312" width="3" height="1"/>
<rect x="501" y="306" width="1" height="24"/><rect x="500" y="312" width="3" height="6"/>
<rect x="513" y="312" width="1" height="11"/><rect x="512" y="317" width="3" height="5"/>
<rect x="525" y="286" width="1" height="21"/><rect x="524" y="302" width="3" height="2"/>
<rect x="529" y="296" width="1" height="28"/><rect x="528" y="303" width="3" height="17"/>
<rect x="545" y="308" width="1" height="3"/><rect x="544" y="309" width="3" height="1"/>
<rect x="553" y="305" width="1" height="43"/><rect x="552" y="312" width="3" height="28"/>
<rect x="557" y="334" width="1" height="18"/><rect x="556" y="339" width="3" height="2"/>
<rect x="561" y="339" width="1" height="57"/><rect x="560" y="340" width="3" height="47"/>
<rect x="569" y="373" width="1" height="7"/><rect x="568" y="374" width="3" height="5"/>
<rect x="585" y="356" width="1" height="16"/><rect x="584" y="363" width="3" height="5"/>
<rect x="589" y="365" width="1" height="18"/><rect x="588" y="369" width="3" height="3"/>
<rect x="593" y="372" width="1" height="2"/><rect x="592" y="372" width="3" height="2"/>
<rect x="609" y="359" width="1" height="15"/><rect x="608" y="359" width="3" height="8"/>
<rect x="617" y="345" width="1" height="4"/><rect x="616" y="347" width="3" height="2"/>
<rect x="621" y="345" width="1" height="15"/><rect x="620" y="348" width="3" height="8"/>
<rect x="629" y="349" width="1" height="23"/><rect x="628" y="351" width="3" height="21"/>
<rect x="633" y="367" width="1" height="16"/><rect x="632" y="372" width="3" height="1"/>
<rect x="641" y="364" width="1" height="2"/><rect x="640" y="364" width="3" height="2"/>
<rect x="645" y="358" width="1" height="16"/><rect x="644" y="364" width="3" height="5"/>
<rect x="653" y="360" width="1" height="10"/><rect x="652" y="365" width="3" height="5"/>
<rect x="665" y="359" width="1" height="4"/><rect x="664" y="361" width="3" height="2"/>
<rect x="677" y="358" width="1" height="15"/><rect x="676" y="360" width="3" height="11"/>
<rect x="681" y="367" width="1" height="9"/><rect x="680" y="371" width="3" height="3"/>
<rect x="689" y="361" width="1" height="3"/><rect x="688" y="362" width="3" height="2"/>
<rect x="697" y="350" width="1" height="11"/><rect x="696" y="352" width="3" height="2"/>
<rect x="701" y="348" width="1" height="11"/><rect x="700" y="354" width="3" height="1"/>
<rect x="721" y="105" width="1" height="98"/><rect x="720" y="151" width="3" height="39"/>
<rect x="729" y="144" width="1" height="39"/><rect x="728" y="158" width="3" height="20"/>
<rect x="737" y="136" width="1" height="14"/><rect x="736" y="146" width="3" height="3"/>
<rect x="741" y="132" width="1" height="24"/><rect x="740" y="144" width="3" height="2"/>
<rect x="745" y="138" width="1" height="116"/><rect x="744" y="146" width="3" height="83"/>
<rect x="753" y="180" width="1" height="35"/><rect x="752" y="193" width="3" height="4"/>
<rect x="757" y="186" width="1" height="14"/><rect x="756" y="194" width="3" height="3"/>
<rect x="761" y="195" width="1" height="8"/><rect x="760" y="195" width="3" height="4"/>
<rect x="773" y="172" width="1" height="18"/><rect x="772" y="174" width="3" height="6"/>
<rect x="793" y="64" width="1" height="30"/><rect x="792" y="75" width="3" height="5"/>
<rect x="801" y="67" width="1" height="37"/><rect x="800" y="77" width="3" height="20"/>
<rect x="817" y="49" width="1" height="18"/><rect x="816" y="57" width="3" height="7"/>
<rect x="821" y="64" width="1" height="36"/><rect x="820" y="64" width="3" height="34"/>
<rect x="825" y="94" width="1" height="29"/><rect x="824" y="98" width="3" height="7"/>
<rect x="829" y="94" width="1" height="47"/><rect x="828" y="105" width="3" height="27"/>
<rect x="833" y="131" width="1" height="17"/><rect x="832" y="132" width="3" height="10"/>
<rect x="841" y="121" width="1" height="25"/><rect x="840" y="127" width="3" height="10"/>
<rect x="849" y="132" width="1" height="61"/><rect x="848" y="133" width="3" height="47"/>
<rect x="853" y="175" width="1" height="38"/><rect x="852" y="180" width="3" height="33"/>
<rect x="869" y="156" width="1" height="12"/><rect x="868" y="158" width="3" height="7"/>
<rect x="877" y="141" width="1" height="28"/><rect x="876" y="146" width="3" height="12"/>
<rect x="889" y="125" width="1" height="22"/><rect x="888" y="128" width="3" height="2"/>
<rect x="897" y="110" width="1" height="18"/><rect x="896" y="113" width="3" height="3"/>
<rect x="909" y="94" width="1" height="33"/><rect x="908" y="98" width="3" height="5"/>
<rect x="917" y="86" width="1" height="17"/><rect x="916" y="96" width="3" height="1"/>
<rect x="921" y="94" width="1" height="27"/><rect x="920" y="96" width="3" height="19"/>
<rect x="925" y="114" width="1" height="24"/><rect x="924" y="115" width="3" height="16"/>
<rect x="929" y="131" width="1" height="7"/><rect x="928" y="131" width="3" height="7"/>
<rect x="941" y="77" width="1" height="43"/><rect x="940" y="92" width="3" height="12"/>
<rect x="945" y="77" width="1" height="70"/><rect x="944" y="104" width="3" height="38"/>
<rect x="949" y="128" width="1" height="40"/><rect x="948" y="141" width="3" height="22"/>
<rect x="953" y="154" width="1" height="18"/><rect x="952" y="163" width="3" height="7"/>
<rect x="957" y="152" width="1" height="42"/><rect x="956" y="169" width="3" height="7"/>
<rect x="969" y="137" width="1" height="41"/><rect x="968" y="147" width="3" height="18"/>
<rect x="973" y="157" width="1" height="19"/><rect x="972" y="164" width="3" height="3"/>
<rect x="977" y="159" width="1" height="13"/><rect x="976" y="166" width="3" height="6"/>
<rect x="981" y="171" width="1" height="12"/><rect x="980" y="173" width="3" height="2"/>
<rect x="989" y="159" width="1" height="23"/><rect x="988" y="170" width="3" height="10"/>
<rect x="997" y="170" width="1" height="22"/><rect x="996" y="176" width="3" height="12"/>
<rect x="1001" y="186" width="1" height="8"/><rect x="1000" y="187" width="3" height="7"/>
<rect x="1013" y="175" width="1" height="18"/><rect x="1012" y="181" width="3" height="9"/>
<rect x="1017" y="180" width="1" height="36"/><rect x="1016" y="189" width="3" height="12"/>
<rect x="1021" y="193" width="1" height="16"/><rect x="1020" y="200" width="3" height="8"/>
<rect x="1029" y="205" width="1" height="18"/><rect x="1028" y="207" width="3" height="10"/>
<rect x="1033" y="209" width="1" height="49"/><rect x="1032" y="216" width="3" height="28"/>
<rect x="1037" y="237" width="1" height="21"/><rect x="1036" y="244" width="3" height="2"/>
<rect x="1041" y="224" width="1" height="56"/><rect x="1040" y="246" width="3" height="24"/>
<rect x="1049" y="248" width="1" height="9"/><rect x="1048" y="251" width="3" height="4"/>
<rect x="1069" y="215" width="1" height="30"/><rect x="1068" y="218" width="3" height="25"/>
<rect x="1089" y="191" width="1" height="26"/><rect x="1088" y="207" width="3" height="6"/>
<rect x="1097" y="197" width="1" height="6"/><rect x="1096" y="198" width="3" height="4"/>
<rect x="1101" y="201" width="1" height="17"/><rect x="1100" y="201" width="3" height="12"/>
<rect x="1105" y="202" width="1" height="26"/><rect x="1104" y="213" width="3" height="13"/>
<rect x="1109" y="220" width="1" height="17"/><rect x="1108" y="225" width="3" height="1"/>
<rect x="1117" y="207" width="1" height="17"/><rect x="1116" y="212" width="3" height="4"/>
<rect x="1133" y="163" width="1" height="34"/><rect x="1132" y="168" width="3" height="29"/>
<rect x="1137" y="186" width="1" height="20"/><rect x="1136" y="197" width="3" height="6"/>
<rect x="1141" y="195" width="1" height="27"/><rect x="1140" y="202" width="3" height="12"/>
<rect x="1145" y="211" width="1" height="13"/><rect x="1144" y="212" width="3" height="9"/>
<rect x="1153" y="204" width="1" height="15"/><rect x="1152" y="210" width="3" height="5"/>
<rect x="1161" y="204" width="1" height="80"/><rect x="1160" y="212" width="3" height="55"/>
<rect x="1169" y="220" width="1" height="23"/><rect x="1168" y="230" width="3" height="13"/>
<rect x="1173" y="237" width="1" height="22"/><rect x="1172" y="243" width="3" height="12"/>
<rect x="1189" y="233" width="1" height="17"/><rect x="1188" y="243" width="3" height="3"/>
</g>
<g fill="#ff0000">
<rect x="5" y="364" width="1" height="22"/><rect x="4" y="365" width="3" height="15"/>
<rect x="9" y="350" width="1" height="21"/><rect x="8" y="364" width="3" height="4"/>
<rect x="25" y="376" width="1" height="26"/><rect x="24" y="389" width="3" height="8"/>
<rect x="41" y="479" width="1" height="8"/><rect x="40" y="479" width="3" height="7"/>
<rect x="45" y="468" width="1" height="38"/><rect x="44" y="479" width="3" height="6"/>
<rect x="49" y="469" width="1" height="33"/><rect x="48" y="475" width="3" height="5"/>
<rect x="57" y="451" width="1" height="41"/><rect x="56" y="453" width="3" height="29"/>
<rect x="61" y="452" width="1" height="27"/><rect x="60" y="452" width="3" height="2"/>
<rect x="65" y="438" width="1" height="15"/><rect x="64" y="439" width="3" height="14"/>
<rect x="73" y="426" width="1" height="18"/><rect x="72" y="433" width="3" height="10"/>
<rect x="81" y="434" width="1" height="31"/><rect x="80" y="446" width="3" height="3"/>
<rect x="93" y="484" width="1" height="26"/><rect x="92" y="489" width="3" height="1"/>
<rect x="109" y="490" width="1" height="50"/><rect x="108" y="493" width="3" height="45"/>
<rect x="113" y="487" width="1" height="9"/><rect x="112" y="489" width="3" height="6"/>
<rect x="117" y="459" width="1" height="36"/><rect x="116" y="467" width="3" height="24"/>
<rect x="125" y="468" width="1" height="21"/><rect x="124" y="471" width="3" height="13"/>
<rect x="129" y="459" width="1" height="13"/><rect x="128" y="466" width="3" height="6"/>
<rect x="133" y="450" width="1" height="20"/><rect x="132" y="462" width="3" height="5"/>
<rect x="137" y="457" width="1" height="6"/><rect x="136" y="461" width="3" height="2"/>
<rect x="141" y="443" width="1" height="37"/><rect x="140" y="443" width="3" height="19"/>
<rect x="149" y="464" width="1" height="23"/><rect x="148" y="468" width="3" height="1"/>
<rect x="153" y="455" width="1" height="27"/><rect x="152" y="459" width="3" height="10"/>
<rect x="165" y="468" width="1" height="17"/><rect x="164" y="469" width="3" height="5"/>
<rect x="177" y="518" width="1" height="40"/><rect x="176" y="521" width="3" height="10"/>
<rect x="193" y="539" width="1" height="28"/><rect x="192" y="551" width="3" height="15"/>
<rect x="201" y="547" width="1" height="23"/><rect x="200" y="549" width="3" height="11"/>
<rect x="205" y="531" width="1" height="23"/><rect x="204" y="535" width="3" height="15"/>
<rect x="209" y="527" width="1" height="10"/><rect x="208" y="528" width="3" height="8"/>
<rect x="213" y="532" width="1" height="27"/><rect x="212" y="534" width="3" height="13"/>
<rect x="221" y="517" width="1" height="26"/><rect x="220" y="528" width="3" height="9"/>
<rect x="225" y="519" width="1" height="15"/><rect x="224" y="519" width="3" height="10"/>
<rect x="229" y="507" width="1" height="13"/><rect x="228" y="515" width="3" height="5"/>
<rect x="233" y="512" width="1" height="8"/><rect x="232" y="513" width="3" height="3"/>
<rect x="237" y="510" width="1" height="7"/><rect x="236" y="510" width="3" height="3"/>
<rect x="249" y="509" width="1" height="36"/><rect x="248" y="522" width="3" height="16"/>
<rect x="261" y="521" width="1" height="12"/><rect x="260" y="523" width="3" height="9"/>
<rect x="273" y="535" width="1" height="40"/><rect x="272" y="538" width="3" height="8"/>
<rect x="277" y="518" width="1" height="27"/><rect x="276" y="519" width="3" height="20"/>
<rect x="281" y="517" width="1" height="4"/><rect x="280" y="518" width="3" height="2"/>
<rect x="289" y="522" width="1" height="17"/><rect x="288" y="522" width="3" height="8"/>
<rect x="293" y="505" width="1" height="24"/><rect x="292" y="505" width="3" height="15"/>
<rect x="297" y="495" width="1" height="20"/><rect x="296" y="503" width="3" height="3"/>
<rect x="305" y="520" width="1" height="7"/><rect x="304" y="522" width="3" height="3"/>
<rect x="309" y="524" width="1" height="15"/><rect x="308" y="528" width="3" height="5"/>
<rect x="313" y="513" width="1" height="14"/><rect x="312" y="514" width="3" height="13"/>
<rect x="321" y="520" width="1" height="15"/><rect x="320" y="530" width="3" height="2"/>
<rect x="333" y="517" width="1" height="19"/><rect x="332" y="526" width="3" height="8"/>
<rect x="341" y="518" width="1" height="9"/><rect x="340" y="524" width="3" height="3"/>
<rect x="345" y="515" width="1" height="14"/><rect x="344" y="516" width="3" height="9"/>
<rect x="361" y="530" width="1" height="12"/><rect x="360" y="532" width="3" height="9"/>
<rect x="369" y="533" width="1" height="36"/><rect x="368" y="537" width="3" height="24"/>
<rect x="377" y="526" width="1" height="20"/><rect x="376" y="531" width="3" height="12"/>
<rect x="381" y="514" width="1" height="19"/><rect x="380" y="518" width="3" height="15"/>
<rect x="385" y="512" width="1" height="13"/><rect x="384" y="513" width="3" height="6"/>
<rect x="389" y="485" width="1" height="29"/><rect x="388" y="491" width="3" height="23"/>
<rect x="397" y="506" width="1" height="4"/><rect x="396" y="506" width="3" height="4"/>
<rect x="401" y="500" width="1" height="13"/><rect x="400" y="505" width="3" height="3"/>
<rect x="405" y="496" width="1" height="14"/><rect x="404" y="503" width="3" height="1"/>
<rect x="413" y="497" width="1" height="31"/><rect x="412" y="498" width="3" height="20"/>
<rect x="429" y="326" width="1" height="53"/><rect x="428" y="332" width="3" height="40"/>
<rect x="437" y="327" width="1" height="24"/><rect x="436" y="339" width="3" height="4"/>
<rect x="441" y="328" width="1" height="16"/><rect x="440" y="328" width="3" height="12"/>
<rect x="445" y="295" width="1" height="34"/><rect x="444" y="302" width="3" height="27"/>
<rect x="449" y="299" width="1" height="4"/><rect x="448" y="300" width="3" height="3"/>
<rect x="481" y="313" width="1" height="28"/><rect x="480" y="325" width="3" height="13"/>
<rect x="485" y="306" width="1" height="23"/><rect x="484" y="310" width="3" height="19"/>
<rect x="493" y="297" width="1" height="22"/><rect x="492" y="312" width="3" height="7"/>
<rect x="505" y="311" width="1" height="19"/><rect x="504" y="318" width="3" height="1"/>
<rect x="509" y="314" width="1" height="15"/><rect x="508" y="316" width="3" height="4"/>
<rect x="517" y="283" width="1" height="40"/><rect x="516" y="302" width="3" height="20"/>
<rect x="521" y="300" width="1" height="7"/><rect x="520" y="301" width="3" height="2"/>
<rect x="533" y="310" width="1" height="18"/><rect x="532" y="314" width="3" height="6"/>
<rect x="537" y="309" width="1" height="12"/><rect x="536" y="313" width="3" height="2"/>
<rect x="541" y="307" width="1" height="10"/><rect x="540" y="309" width="3" height="4"/>
<rect x="549" y="310" width="1" height="6"/><rect x="548" y="313" width="3" height="2"/>
<rect x="565" y="363" width="1" height="45"/><rect x="564" y="374" width="3" height="13"/>
<rect x="573" y="359" width="1" height="29"/><rect x="572" y="371" width="3" height="17"/>
<rect x="577" y="358" width="1" height="25"/><rect x="576" y="366" width="3" height="5"/>
<rect x="581" y="353" width="1" height="26"/><rect x="580" y="363" width="3" height="3"/>
<rect x="597" y="380" width="1" height="31"/><rect x="596" y="381" width="3" height="23"/>
<rect x="601" y="357" width="1" height="37"/><rect x="600" y="362" width="3" height="19"/>
<rect x="605" y="344" width="1" height="20"/><rect x="604" y="359" width="3" height="4"/>
<rect x="613" y="345" width="1" height="28"/><rect x="612" y="347" width="3" height="22"/>
<rect x="625" y="347" width="1" height="15"/><rect x="624" y="351" width="3" height="4"/>
<rect x="637" y="359" width="1" height="13"/><rect x="636" y="364" width="3" height="8"/>
<rect x="649" y="364" width="1" height="11"/><rect x="648" y="365" width="3" height="5"/>
<rect x="657" y="358" width="1" height="13"/><rect x="656" y="364" width="3" height="6"/>
<rect x="661" y="360" width="1" height="14"/><rect x="660" y="363" width="3" height="1"/>
<rect x="669" y="361" width="1" height="7"/><rect x="668" y="363" width="3" height="3"/>
<rect x="673" y="358" width="1" height="8"/><rect x="672" y="359" width="3" height="6"/>
<rect x="685" y="361" width="1" height="14"/><rect x="684" y="364" width="3" height="10"/>
<rect x="693" y="344" width="1" height="22"/><rect x="692" y="352" width="3" height="12"/>
<rect x="705" y="327" width="1" height="28"/><rect x="704" y="339" width="3" height="15"/>
<rect x="709" y="267" width="1" height="76"/><rect x="708" y="275" width="3" height="67"/>
<rect x="713" y="266" width="1" height="10"/><rect x="712" y="267" width="3" height="9"/>
<rect x="717" y="136" width="1" height="135"/><rect x="716" y="151" width="3" height="114"/>
<rect x="725" y="147" width="1" height="48"/><rect x="724" y="158" width="3" height="32"/>
<rect x="733" y="143" width="1" height="35"/><rect x="732" y="146" width="3" height="32"/>
<rect x="749" y="192" width="1" height="46"/><rect x="748" y="193" width="3" height="36"/>
<rect x="765" y="181" width="1" height="22"/><rect x="764" y="182" width="3" height="21"/>
<rect x="769" y="168" width="1" height="14"/><rect x="768" y="173" width="3" height="9"/>
<rect x="777" y="145" width="1" height="37"/><rect x="776" y="154" width="3" height="27"/>
<rect x="781" y="115" width="1" height="44"/><rect x="780" y="116" width="3" height="38"/>
<rect x="785" y="106" width="1" height="15"/><rect x="784" y="109" width="3" height="8"/>
<rect x="789" y="71" width="1" height="38"/><rect x="788" y="74" width="3" height="35"/>
<rect x="797" y="69" width="1" height="20"/><rect x="796" y="77" width="3" height="3"/>
<rect x="805" y="82" width="1" height="23"/><rect x="804" y="84" width="3" height="13"/>
<rect x="809" y="75" width="1" height="9"/><rect x="808" y="81" width="3" height="3"/>
<rect x="813" y="56" width="1" height="25"/><rect x="812" y="57" width="3" height="24"/>
<rect x="837" y="112" width="1" height="24"/><rect x="836" y="127" width="3" height="8"/>
<rect x="845" y="125" width="1" height="17"/><rect x="844" y="133" width="3" height="3"/>
<rect x="857" y="201" width="1" height="12"/><rect x="856" y="202" width="3" height="11"/>
<rect x="861" y="174" width="1" height="28"/><rect x="860" y="180" width="3" height="22"/>
<rect x="865" y="148" width="1" height="38"/><rect x="864" y="158" width="3" height="22"/>
<rect x="873" y="138" width="1" height="36"/><rect x="872" y="146" width="3" height="19"/>
<rect x="881" y="114" width="1" height="44"/><rect x="880" y="129" width="3" height="29"/>
<rect x="885" y="119" width="1" height="29"/><rect x="884" y="128" width="3" height="17"/>
<rect x="893" y="110" width="1" height="31"/><rect x="892" y="112" width="3" height="18"/>
<rect x="901" y="94" width="1" height="38"/><rect x="900" y="109" width="3" height="7"/>
<rect x="905" y="96" width="1" height="14"/><rect x="904" y="98" width="3" height="12"/>
<rect x="913" y="88" width="1" height="23"/><rect x="912" y="96" width="3" height="7"/>
<rect x="933" y="105" width="1" height="17"/><rect x="932" y="114" width="3" height="5"/>
<rect x="937" y="89" width="1" height="38"/><rect x="936" y="91" width="3" height="23"/>
<rect x="961" y="156" width="1" height="27"/><rect x="960" y="162" width="3" height="14"/>
<rect x="965" y="131" width="1" height="35"/><rect x="964" y="147" width="3" height="15"/>
<rect x="985" y="162" width="1" height="19"/><rect x="984" y="171" width="3" height="4"/>
<rect x="993" y="171" width="1" height="22"/><rect x="992" y="176" width="3" height="5"/>
<rect x="1005" y="179" width="1" height="18"/><rect x="1004" y="183" width="3" height="14"/>
<rect x="1009" y="178" width="1" height="15"/><rect x="1008" y="181" width="3" height="2"/>
<rect x="1025" y="201" width="1" height="8"/><rect x="1024" y="203" width="3" height="5"/>
<rect x="1045" y="241" width="1" height="52"/><rect x="1044" y="251" width="3" height="19"/>
<rect x="1053" y="231" width="1" height="26"/><rect x="1052" y="233" width="3" height="24"/>
<rect x="1057" y="230" width="1" height="23"/><rect x="1056" y="233" width="3" height="1"/>
<rect x="1061" y="214" width="1" height="21"/><rect x="1060" y="218" width="3" height="16"/>
<rect x="1065" y="207" width="1" height="20"/><rect x="1064" y="218" width="3" height="1"/>
<rect x="1073" y="236" width="1" height="6"/><rect x="1072" y="241" width="3" height="1"/>
<rect x="1077" y="212" width="1" height="24"/><rect x="1076" y="218" width="3" height="18"/>
<rect x="1081" y="212" width="1" height="12"/><rect x="1080" y="214" width="3" height="4"/>
<rect x="1085" y="201" width="1" height="23"/><rect x="1084" y="208" width="3" height="6"/>
<rect x="1093" y="196" width="1" height="26"/><rect x="1092" y="198" width="3" height="14"/>
<rect x="1113" y="210" width="1" height="23"/><rect x="1112" y="212" width="3" height="14"/>
<rect x="1121" y="211" width="1" height="5"/><rect x="1120" y="212" width="3" height="4"/>
<rect x="1125" y="199" width="1" height="20"/><rect x="1124" y="201" width="3" height="14"/>
<rect x="1129" y="158" width="1" height="50"/><rect x="1128" y="169" width="3" height="32"/>
<rect x="1149" y="203" width="1" height="16"/><rect x="1148" y="208" width="3" height="9"/>
<rect x="1157" y="204" width="1" height="17"/><rect x="1156" y="212" width="3" height="5"/>
<rect x="1165" y="225" width="1" height="99"/><rect x="1164" y="231" width="3" height="36"/>
<rect x="1177" y="238" width="1" height="19"/><rect x="1176" y="253" width="3" height="2"/>
<rect x="1181" y="237" width="1" height="18"/><rect x="1180" y="245" width="3" height="9"/>
<rect x="1185" y="238" width="1" height="17"/><rect x="1184" y="245" width="3" height="1"/>
<rect x="1193" y="241" width="1" height="5"/><rect x="1192" y="244" width="3" height="2"/>
<rect x="1197" y="241" width="1" height="6"/><rect x="1196" y="243" width="3" height="2"/>
</g>
</g>
<polyline points="5,350 8,350 11,352 14,355 17,357 20,358 27,358 30,360 33,363 43,374 44,375 55,385 62,392 67,395 71,398 78,405 81,406 84,410 88,417 91,420 94,424 100,431 104.5,438.5 115,448.5 123,455 130,461.5 138,466 145,471 149,472.3 155,472.5 156,471.5 170,471.5 172,472.5 175,474 180,477 185,481 190,486 198,494 202,496.5 206,498.5 210,499.5 214,500.5 217,502 232,502.5 234,504 238,504.5 243,507 249,509.5 255,514 261,518 268,522 272,525 276,527 281,528.5 285,530 290,532.5 293,531 300,530.5 305,529 310,527.5 315,526.5 320,525.5 340,525.5 344,524.5 348,524 351,525.5 355,526.5 358,527 363,527 365,528.5 385,528.5 388,526.5 392,525.5 396,524.5 402,524 404,523.5 418,523.5 420,522.5 425,522.5 427,521 430,516 434,509 438,503 442,496 445,491 448,484 452,477 456,469 460,462 464,454 468,448 472,441 476,433 480,426 484,418 489,410 493,403 500,390 505,382 510,375 517,364 522,355 526,348 530,341 534,335 538,329 542,322 545,318 548,316.5 558,316.5 560,318 563,319.5 565,320 570,322 584,330 590,332.3 600,336 605,338 610,339.5 620,342.5 625,343.8 630,346 640,351 650,356 657,359 660,361 663,362 667,363 672,365 680,366 685,365.5 690,365 695,364 700,362 705,361 708,359.5 710,359 715,352 720,344 724,336 729,328 733,321 737,314 740,309 745,303 750,296 755,290 759,284 763,279 765,275 770,268 775,261 779,252.5 783.6,243 787,236 790,228 794,219 798,210 802,201 806,192 809,185 811,178 814,170 817,162 820,155 824,148 828,143 831,140 834,138 838,137 841,135.5 846,134.5 850,136 855,138 858,139.5 861,140.5 864,138 867,136.5 871,135.5 875,134 879,132 883,129.5 888,128.5 892,127 896,125 898,124.5 907,124.5 909,126 915,126 918,126.5 922,126.5 925,128.5 929,130.5 933,132.5 939,132.5 942,133.5 946,134.5 950,135.5 954,137 958,138 962,139 965,139.5 968,138.5 972,137.5 976,136.5 980,135.5 983,135.5 986,136.5 990,136.5 993,137.5 995,137.5 1000,139 1004,141.5 1011,146 1018,150 1023,154 1027,158 1031,163 1035,168 1040,173 1045,178 1050,183 1055,188 1056,191 1058,193 1062,195 1066,199 1070,201.5 1074,203 1078,204 1082,206 1086,208.5 1090,210.5 1094,211.5 1098,212.5 1102,213 1105,215 1109,217.5 1113,218.5 1117,219 1123,219 1125,220.5 1143,220.5 1145,221.5 1147,221 1150,220 1153,219.5 1155,218.5 1165,218.5 1167,217.5 1171,217.5 1173,218.5 1179,218.5 1181,219.5 1183,219.5 1185,220.5 1195,220.5 1196.5,221.5" fill="none" stroke="#0000cd" stroke-width="1" shape-rendering="crispEdges"/>
<polyline points="5,354.5 9,355 14,357 17,359 20,361 24,366 28,371 30,376 36,389 41,400 47,412 52,423 58,430 65,439 70,446.5 76,452 81,457.5 85,462 88,463.2 95,464 100,466.5 105,472 109,473 114,476.5 119,477 122,480 130,484 133,485 137,486 140,484 145,481 150,480 154,478 158,474 162,469 165,468 170,467.5 175,472 180,477 185,483 190,492 194,500 196,504 200,510 206,518 211,524 216,530 222,536 226,538.5 230,537.5 236,536 241,534.5 246,532 250,530 254,527.5 260,526.5 268,527 280,526.5 288,527.5 292,527 296,525.5 300,524 310,524.5 313,523.5 318,524 323,522.5 331,522.5 334,523.5 342,523.5 346,524 350,526.5 355,528.5 360,529.5 365,531.5 369,533 380,533 383,531.5 388,529.5 393,527.5 397,526.5 402,525 405,523.5 410,520.5 413,518 417,517.5 421,514 426,510 428,500 431,492 433,484 436,470 439,460 442,449 445,438 449,425.5 455,410 460,393 465,375 468,362 472,350 476,340 479,330 481,321 484,321 486,319.5 489,319 493,318 497,317 500,317.5 505,318.5 510,318.5 514,319.5 517,319 521,318.5 525,317 529,315.5 533,314.5 537,313.5 541,313 545,312.5 549,312.5 553,314 557,315 560,318 563,322 565,323.5 570,330 572,333 580,340 587,347 593,354 597,361 605,362 609,366 613,369 616,368 620,366 625,364 630,363 640,363.5 650,364 660,365 665,364 675,363.5 690,363 700,362 705,360 708,355 710,353 714.5,344 717,334 720,322 723,311 726,300 729,289 732,278 735,267 738,256 740,248 742,242 745,235 748,227 751,219 754,211 757,203 760,196 763,190 766,184 770,181 773,180 775,178 781,175 785,170 790,164 795,158 798,154 801,148 803,142 806,135 809,128 812,121 815,114 818,108 822,102 826,97 830,95 833,94.5 836,94.5 840,96 843,99 846,102 849,108 852,114 856,122 860,130 864,138 867,143 870,147 872,150 875,154 878,155.5 881,157.5 884,157.5 888,156.5 892,155 896,153.5 901,152.5 904,150 907,143 910,136 913,130 916,126 919,123 922,121 926,119.5 930,118.5 933,116 936,114 939,112 945,112 948,114 952,118 955,121 958,125 962,129 965,131 967,133 970,138 974,143 978,147 982,149 986,153 990,156 992,161 995,165 998,168 1001,171 1004,172 1008,173 1012,173.5 1015,175 1018,178 1022,182 1026,185 1031,190 1035,195 1038,199 1041,205 1045,210 1049,216 1053,219 1056,221 1059,223.5 1063,224 1065,227 1068,230 1071,233 1074,234.5 1078,235.5 1085,235.5 1088,234 1092,230 1095,227 1098,224 1102,222 1106,220 1110,219 1114,218 1118,217.5 1122,217.5 1125,215 1128,210 1131,208 1135,206.5 1138,206.5 1141,207.5 1148,207.5 1150,208.5 1152,209 1158,209 1160,210.5 1162,212 1166,212.5 1169,214 1172,216 1175,219 1178,221 1181,224 1184,228 1187,231 1190,234 1193,236 1195,236.5 1196.5,236.5" fill="none" stroke="#ff0000" stroke-width="1" shape-rendering="crispEdges"/>
<polyline points="5,369 9,369 13,371 17,372 21,375 25,380 27,385 29,391 31,399 33,408 35,420 40,439 45,463 48,474 53,481 57,476 62,464 69,454.5 75,444 81,442.2 85,449 90,462 97,480 100,490 104,503 105,506 113,506.5 117,501 120,496 122,490 126,479 134,470 140,464 141,460.5 157,460 160,465 162,468 169,467.5 172,476 175,487 178,497 181,507 183,514 185,521 187,531 189,537 193,542 197,550 200,552.5 205,552.5 208,546 212,541.5 216,536 220,531 225,529 230,527 234,522 238,517 242,518.5 246,521 250,524 254,528.5 258,529.5 265,528.5 269,532.5 273,534.5 278,531 285,530 290,525 294,518 298,515 302,516 306,515.5 310,517 313,519.5 316,523 320,525 325,527.5 330,530 334,531.5 338,530.5 342,529 346,526.5 350,526 353,527.5 357,530 361,532.5 363,537 366,540.5 370,541 375,541 378,539.5 382,537 385,531 388,525 391,517 395,511 400,507 405,503.5 409,507 421,506.5 425,507.5 426,502 427,494 427.5,486 428,482 429,475 430,466 431,458 432,450 433,443 434,435 435,426 436,418 437,410 439,392 441,375 442.5,362 444,345 445,334 446,328 449,323 452,318 455,312 458,308 461,306.5 464,307.5 467,311 470,316 474,321 478,326 481,328.5 485,326.5 489,325.5 492,322 495,318 498,315.5 502,315 506,316 510,317 514,316.5 517,315.5 520,312 524,309.5 529,309 534,308.5 537,310 541,312.5 545,313 550,313 554,316 557,322 559,330 562,340 565,350 568,360 572,369 577,375 581,371 585,369 589,368 593,370 598,372.5 603,370 609,369 613,364 617,358 621,356 625,354.5 629,355 633,360 637,362.5 641,365 645,368 650,367 660,366 665,364 670,363 675,365 680,366 690,365.5 693,364 697,360 701,357 705,354 707,346 709,335 711,328 712,320 713,311 714,302 715,293 716,284 717,273 718,265 719,260 720,250 721,241 722,232 723,223 724,214 725,206 726,198 727,191 729,185 730,182 731,176 733,172 734,165 737,164 740,160 742,156 744.5,165 746,170 749,172 752,178 754,184 756,191 758,195 760,199 761,202 763,197 766,193 770,189 773,187 776,183 777,178 779,170 781,160 783,152 785,145 787,136 789,127 791,118 793,109 795,100 797,93 799,90 803,85 806,83.5 810,83 813,80 816,77.5 820,77.5 823,79 826,83 828,88 830,95 831,101 833,110 835,116 837,120 840,126 843,131 846,137 849,143 852,152 855,165 857,172 861,180 865.5,186 868,185 870,182 873,173 875,166 878,158 881,150 884,145 888,137 892,130 896,123 900,118 904,112 908,107 912,104 916,101 919,100 922,102 925,107 928,112 931,116 934,118.5 938,117.5 942,115 945,117 948,121 951,127 953,134 955,142 957,150 959,157 961,162 964,163.5 975,163 978,162.5 981,164 984,168 987,171 990,173 995,174.5 998,178 1001,181 1005,183 1009,185 1013,187 1017,190 1021,193 1026,197 1029,202 1031,208 1033,214 1035,220 1037,225 1039,230 1041,236 1043,241 1045,246 1047,250 1049,252.5 1053,251 1057,249 1059,244 1061,239 1063,234 1066,230 1070,229 1073,230.5 1077,227.5 1081,227 1085,224.5 1088,219 1091,213 1094,209 1097,207 1101,207 1105,210 1109,212 1113,214 1117,218 1121,218 1124,214 1127,208 1129,203 1132,199 1136,196.5 1141,196.5 1144,199 1147,204 1149,208 1152,212 1155,213.5 1158,215 1160,219 1162,225 1165,226 1167,230 1169,233 1171,237 1173,242 1175,245 1177,248.5 1180,245 1182,244 1185,247 1189,247.5 1192,246 1196,244 1198,244" fill="none" stroke="#ffa500" stroke-width="1" shape-rendering="crispEdges"/>
<g shape-rendering="crispEdges">
<rect x="5" y="41" width="1500" height="2" fill="#ff0000"/>
<rect x="5" y="142" width="1500" height="2" fill="#ff0000"/>
<rect x="5" y="242" width="1500" height="2" fill="#00ff00"/>
<rect x="5" y="362" width="1500" height="2" fill="#0000ff"/>
<rect x="5" y="482" width="1500" height="2" fill="#0000ff"/>
</g>
<g shape-rendering="crispEdges">
<rect x="4" y="21" width="1" height="568" fill="#000"/>
<rect x="4" y="39" width="6" height="6" fill="#ff0000"/>
<rect x="6" y="41" width="2" height="2" fill="#fff"/>
<rect x="1498" y="39" width="6" height="6" fill="#ff0000"/>
<rect x="1500" y="41" width="2" height="2" fill="#fff"/>
<rect x="4" y="140" width="6" height="6" fill="#ff0000"/>
<rect x="6" y="142" width="2" height="2" fill="#fff"/>
<rect x="1498" y="140" width="6" height="6" fill="#ff0000"/>
<rect x="1500" y="142" width="2" height="2" fill="#fff"/>
</g>
<text x="1510.00" y="28" font-size="10px" fill="#000" stroke="#000" stroke-width="0.25" textLength="33.04" lengthAdjust="spacingAndGlyphs">7.21925</text>
<text x="1510.00" y="61" font-size="10px" fill="#000" stroke="#000" stroke-width="0.25" textLength="33.04" lengthAdjust="spacingAndGlyphs">7.18600</text>
<text x="1510.00" y="94" font-size="10px" fill="#000" stroke="#000" stroke-width="0.25" textLength="33.04" lengthAdjust="spacingAndGlyphs">7.15370</text>
<text x="1510.00" y="127" font-size="10px" fill="#000" stroke="#000" stroke-width="0.25" textLength="33.04" lengthAdjust="spacingAndGlyphs">7.12045</text>
<text x="1510.00" y="160" font-size="10px" fill="#000" stroke="#000" stroke-width="0.25" textLength="33.04" lengthAdjust="spacingAndGlyphs">7.08720</text>
<text x="1510.00" y="193" font-size="10px" fill="#000" stroke="#000" stroke-width="0.25" textLength="33.04" lengthAdjust="spacingAndGlyphs">7.05395</text>
<text x="1510.00" y="226" font-size="10px" fill="#000" stroke="#000" stroke-width="0.25" textLength="33.04" lengthAdjust="spacingAndGlyphs">7.02165</text>
<text x="1510.00" y="259" font-size="10px" fill="#000" stroke="#000" stroke-width="0.25" textLength="33.04" lengthAdjust="spacingAndGlyphs">6.98840</text>
<text x="1510.00" y="292" font-size="10px" fill="#000" stroke="#000" stroke-width="0.25" textLength="33.04" lengthAdjust="spacingAndGlyphs">6.95515</text>
<text x="1510.00" y="325" font-size="10px" fill="#000" stroke="#000" stroke-width="0.25" textLength="33.04" lengthAdjust="spacingAndGlyphs">6.92285</text>
<text x="1510.00" y="358" font-size="10px" fill="#000" stroke="#000" stroke-width="0.25" textLength="33.04" lengthAdjust="spacingAndGlyphs">6.88960</text>
<text x="1510.00" y="391" font-size="10px" fill="#000" stroke="#000" stroke-width="0.25" textLength="33.04" lengthAdjust="spacingAndGlyphs">6.85635</text>
<text x="1510.00" y="424" font-size="10px" fill="#000" stroke="#000" stroke-width="0.25" textLength="33.04" lengthAdjust="spacingAndGlyphs">6.82310</text>
<text x="1510.00" y="457" font-size="10px" fill="#000" stroke="#000" stroke-width="0.25" textLength="33.04" lengthAdjust="spacingAndGlyphs">6.79080</text>
<text x="1510.00" y="490" font-size="10px" fill="#000" stroke="#000" stroke-width="0.25" textLength="33.04" lengthAdjust="spacingAndGlyphs">6.75755</text>
<text x="1510.00" y="523" font-size="10px" fill="#000" stroke="#000" stroke-width="0.25" textLength="33.04" lengthAdjust="spacingAndGlyphs">6.72430</text>
<text x="1510.00" y="556" font-size="10px" fill="#000" stroke="#000" stroke-width="0.25" textLength="33.04" lengthAdjust="spacingAndGlyphs">6.69105</text>
<text x="1510.00" y="589" font-size="10px" fill="#000" stroke="#000" stroke-width="0.25" textLength="33.04" lengthAdjust="spacingAndGlyphs">6.65875</text>
<g shape-rendering="crispEdges">
<rect x="1506" y="36" width="41" height="11" fill="#ff0000"/>
<rect x="1506" y="137" width="41" height="11" fill="#ff0000"/>
<rect x="1506" y="237" width="41" height="11" fill="#00ff00"/>
<rect x="1506" y="357" width="41" height="11" fill="#0000ff"/>
<rect x="1506" y="477" width="41" height="11" fill="#0000ff"/>
</g>
<text x="1510.00" y="45" font-size="10px" fill="#fff" stroke="#fff" stroke-width="0.25" textLength="33.04" lengthAdjust="spacingAndGlyphs">7.20094</text>
<text x="1510.00" y="146" font-size="10px" fill="#fff" stroke="#fff" stroke-width="0.25" textLength="33.28" lengthAdjust="spacingAndGlyphs">7.10011</text>
<text x="1510.00" y="246" font-size="10px" fill="#fff" stroke="#fff" stroke-width="0.25" textLength="33.04" lengthAdjust="spacingAndGlyphs">7.00029</text>
<text x="1510.00" y="366" font-size="10px" fill="#fff" stroke="#fff" stroke-width="0.25" textLength="33.04" lengthAdjust="spacingAndGlyphs">6.88050</text>
<text x="1510.00" y="486" font-size="10px" fill="#fff" stroke="#fff" stroke-width="0.25" textLength="33.04" lengthAdjust="spacingAndGlyphs">6.76071</text>
<text x="20.30" y="33" font-size="10px" fill="#000" stroke="#000" stroke-width="0.25" textLength="65.50" lengthAdjust="spacingAndGlyphs">USDCNH,Daily</text>
<text x="91.90" y="33" font-size="10px" fill="#000" stroke="#000" stroke-width="0.25" textLength="140.74" lengthAdjust="spacingAndGlyphs">6.99950 7.00230 6.99790 7.00149</text>
<text x="8.72" y="603" font-size="10px" fill="#000" stroke="#000" stroke-width="0.25" textLength="68.44" lengthAdjust="spacingAndGlyphs">RSI(14) 44.9107</text>
<text x="9.12" y="709" font-size="10px" fill="#000" stroke="#000" stroke-width="0.25" textLength="153.88" lengthAdjust="spacingAndGlyphs">MACD(12,26,9) -0.009662 -0.009066</text>
<text x="1508.11" y="601" font-size="10px" fill="#000" stroke="#000" stroke-width="0.25" textLength="15.28" lengthAdjust="spacingAndGlyphs">100</text>
<text x="1507.20" y="626" font-size="10px" fill="#000" stroke="#000" stroke-width="0.25" textLength="9.91" lengthAdjust="spacingAndGlyphs">70</text>
<text x="1507.20" y="667" font-size="10px" fill="#000" stroke="#000" stroke-width="0.25" textLength="9.91" lengthAdjust="spacingAndGlyphs">30</text>
<text x="1507.80" y="691" font-size="10px" fill="#000" stroke="#000" stroke-width="0.25" textLength="4.56" lengthAdjust="spacingAndGlyphs">0</text>
<text x="1508.10" y="707" font-size="10px" fill="#000" stroke="#000" stroke-width="0.25" textLength="37.65" lengthAdjust="spacingAndGlyphs">0.063184</text>
<text x="1508.10" y="763" font-size="10px" fill="#000" stroke="#000" stroke-width="0.25" textLength="18.00" lengthAdjust="spacingAndGlyphs">0.00</text>
<text x="1507.90" y="796" font-size="10px" fill="#000" stroke="#000" stroke-width="0.25" textLength="41.44" lengthAdjust="spacingAndGlyphs">-0.040355</text>
<text x="4.30" y="812" font-size="10px" fill="#000" stroke="#000" stroke-width="0.25" textLength="45.04" lengthAdjust="spacingAndGlyphs">2 Jan 2019</text>
<text x="68.30" y="812" font-size="10px" fill="#000" stroke="#000" stroke-width="0.25" textLength="50.36" lengthAdjust="spacingAndGlyphs">21 Jan 2019</text>
<text x="132.30" y="812" font-size="10px" fill="#000" stroke="#000" stroke-width="0.25" textLength="47.25" lengthAdjust="spacingAndGlyphs">8 Feb 2019</text>
<text x="196.30" y="812" font-size="10px" fill="#000" stroke="#000" stroke-width="0.25" textLength="51.96" lengthAdjust="spacingAndGlyphs">27 Feb 2019</text>
<text x="259.70" y="812" font-size="10px" fill="#000" stroke="#000" stroke-width="0.25" textLength="52.65" lengthAdjust="spacingAndGlyphs">18 Mar 2019</text>
<text x="324.30" y="812" font-size="10px" fill="#000" stroke="#000" stroke-width="0.25" textLength="45.55" lengthAdjust="spacingAndGlyphs">5 Apr 2019</text>
<text x="388.30" y="812" font-size="10px" fill="#000" stroke="#000" stroke-width="0.25" textLength="50.54" lengthAdjust="spacingAndGlyphs">25 Apr 2019</text>
<text x="452.30" y="812" font-size="10px" fill="#000" stroke="#000" stroke-width="0.25" textLength="54.54" lengthAdjust="spacingAndGlyphs">20 May 2019</text>
<text x="516.30" y="812" font-size="10px" fill="#000" stroke="#000" stroke-width="0.25" textLength="44.64" lengthAdjust="spacingAndGlyphs">7 Jun 2019</text>
<text x="580.30" y="812" font-size="10px" fill="#000" stroke="#000" stroke-width="0.25" textLength="49.36" lengthAdjust="spacingAndGlyphs">26 Jun 2019</text>
<text x="643.72" y="812" font-size="10px" fill="#000" stroke="#000" stroke-width="0.25" textLength="46.32" lengthAdjust="spacingAndGlyphs">15 Jul 2019</text>
<text x="708.30" y="812" font-size="10px" fill="#000" stroke="#000" stroke-width="0.25" textLength="47.35" lengthAdjust="spacingAndGlyphs">2 Aug 2019</text>
<text x="772.30" y="812" font-size="10px" fill="#000" stroke="#000" stroke-width="0.25" textLength="52.16" lengthAdjust="spacingAndGlyphs">21 Aug 2019</text>
<text x="836.30" y="812" font-size="10px" fill="#000" stroke="#000" stroke-width="0.25" textLength="46.86" lengthAdjust="spacingAndGlyphs">9 Sep 2019</text>
<text x="900.30" y="812" font-size="10px" fill="#000" stroke="#000" stroke-width="0.25" textLength="51.35" lengthAdjust="spacingAndGlyphs">27 Sep 2019</text>
<text x="963.69" y="812" font-size="10px" fill="#000" stroke="#000" stroke-width="0.25" textLength="51.75" lengthAdjust="spacingAndGlyphs">16 Oct 2019</text>
<text x="1028.30" y="812" font-size="10px" fill="#000" stroke="#000" stroke-width="0.25" textLength="48.45" lengthAdjust="spacingAndGlyphs">4 Nov 2019</text>
<text x="1092.30" y="812" font-size="10px" fill="#000" stroke="#000" stroke-width="0.25" textLength="53.24" lengthAdjust="spacingAndGlyphs">22 Nov 2019</text>
<text x="1155.71" y="812" font-size="10px" fill="#000" stroke="#000" stroke-width="0.25" textLength="51.46" lengthAdjust="spacingAndGlyphs">11 Dec 2019</text>
<text x="4.67" y="9" font-size="10px" fill="#404040" stroke="#404040" stroke-width="0.1" textLength="18.92" lengthAdjust="spacingAndGlyphs">M15</text>
<text x="32.89" y="9" font-size="10px" fill="#404040" stroke="#404040" stroke-width="0.1" textLength="18.53" lengthAdjust="spacingAndGlyphs">M30</text>
<text x="64.08" y="9" font-size="10px" fill="#404040" stroke="#404040" stroke-width="0.1" textLength="12.30" lengthAdjust="spacingAndGlyphs">H1</text>
<text x="91.11" y="9" font-size="10px" fill="#404040" stroke="#404040" stroke-width="0.1" textLength="13.52" lengthAdjust="spacingAndGlyphs">H4</text>
<text x="119.98" y="9" font-size="10px" fill="#404040" stroke="#404040" stroke-width="0.1" textLength="12.30" lengthAdjust="spacingAndGlyphs">D1</text>
<text x="148.00" y="9" font-size="10px" fill="#404040" stroke="#404040" stroke-width="0.1" textLength="14.00" lengthAdjust="spacingAndGlyphs">W1</text>
<text x="173.82" y="9" font-size="10px" fill="#404040" stroke="#404040" stroke-width="0.1" textLength="16.16" lengthAdjust="spacingAndGlyphs">MN</text>
<text x="17.93" y="836.7" font-size="12.3px" fill="#727272" stroke="#727272" stroke-width="0" textLength="80.49" lengthAdjust="spacingAndGlyphs">EURUSD,Daily</text>
<text x="120.07" y="836.7" font-size="12.3px" fill="#727272" stroke="#727272" stroke-width="0" textLength="79.09" lengthAdjust="spacingAndGlyphs">USDCHF,Daily</text>
<text x="221.60" y="836.7" font-size="12.3px" fill="#727272" stroke="#727272" stroke-width="0" textLength="81.82" lengthAdjust="spacingAndGlyphs">AUDUSD,Daily</text>
<text x="324.96" y="836.7" font-size="12.3px" fill="#727272" stroke="#727272" stroke-width="0" textLength="81.46" lengthAdjust="spacingAndGlyphs">USDCAD,Daily</text>
<text x="427.75" y="836.7" font-size="12.3px" fill="#000" stroke="#000" stroke-width="0" textLength="83.48" lengthAdjust="spacingAndGlyphs">USDCNH,Daily</text>
<polygon points="8,28 15.5,28 11.75,32" fill="#000"/>
<polygon points="1520,831 1523.5,827.5 1523.5,834.5" fill="#a0a0a0"/>
<polygon points="1542.5,831 1539,827.5 1539,834.5" fill="#a0a0a0"/>
</svg></body></html>
